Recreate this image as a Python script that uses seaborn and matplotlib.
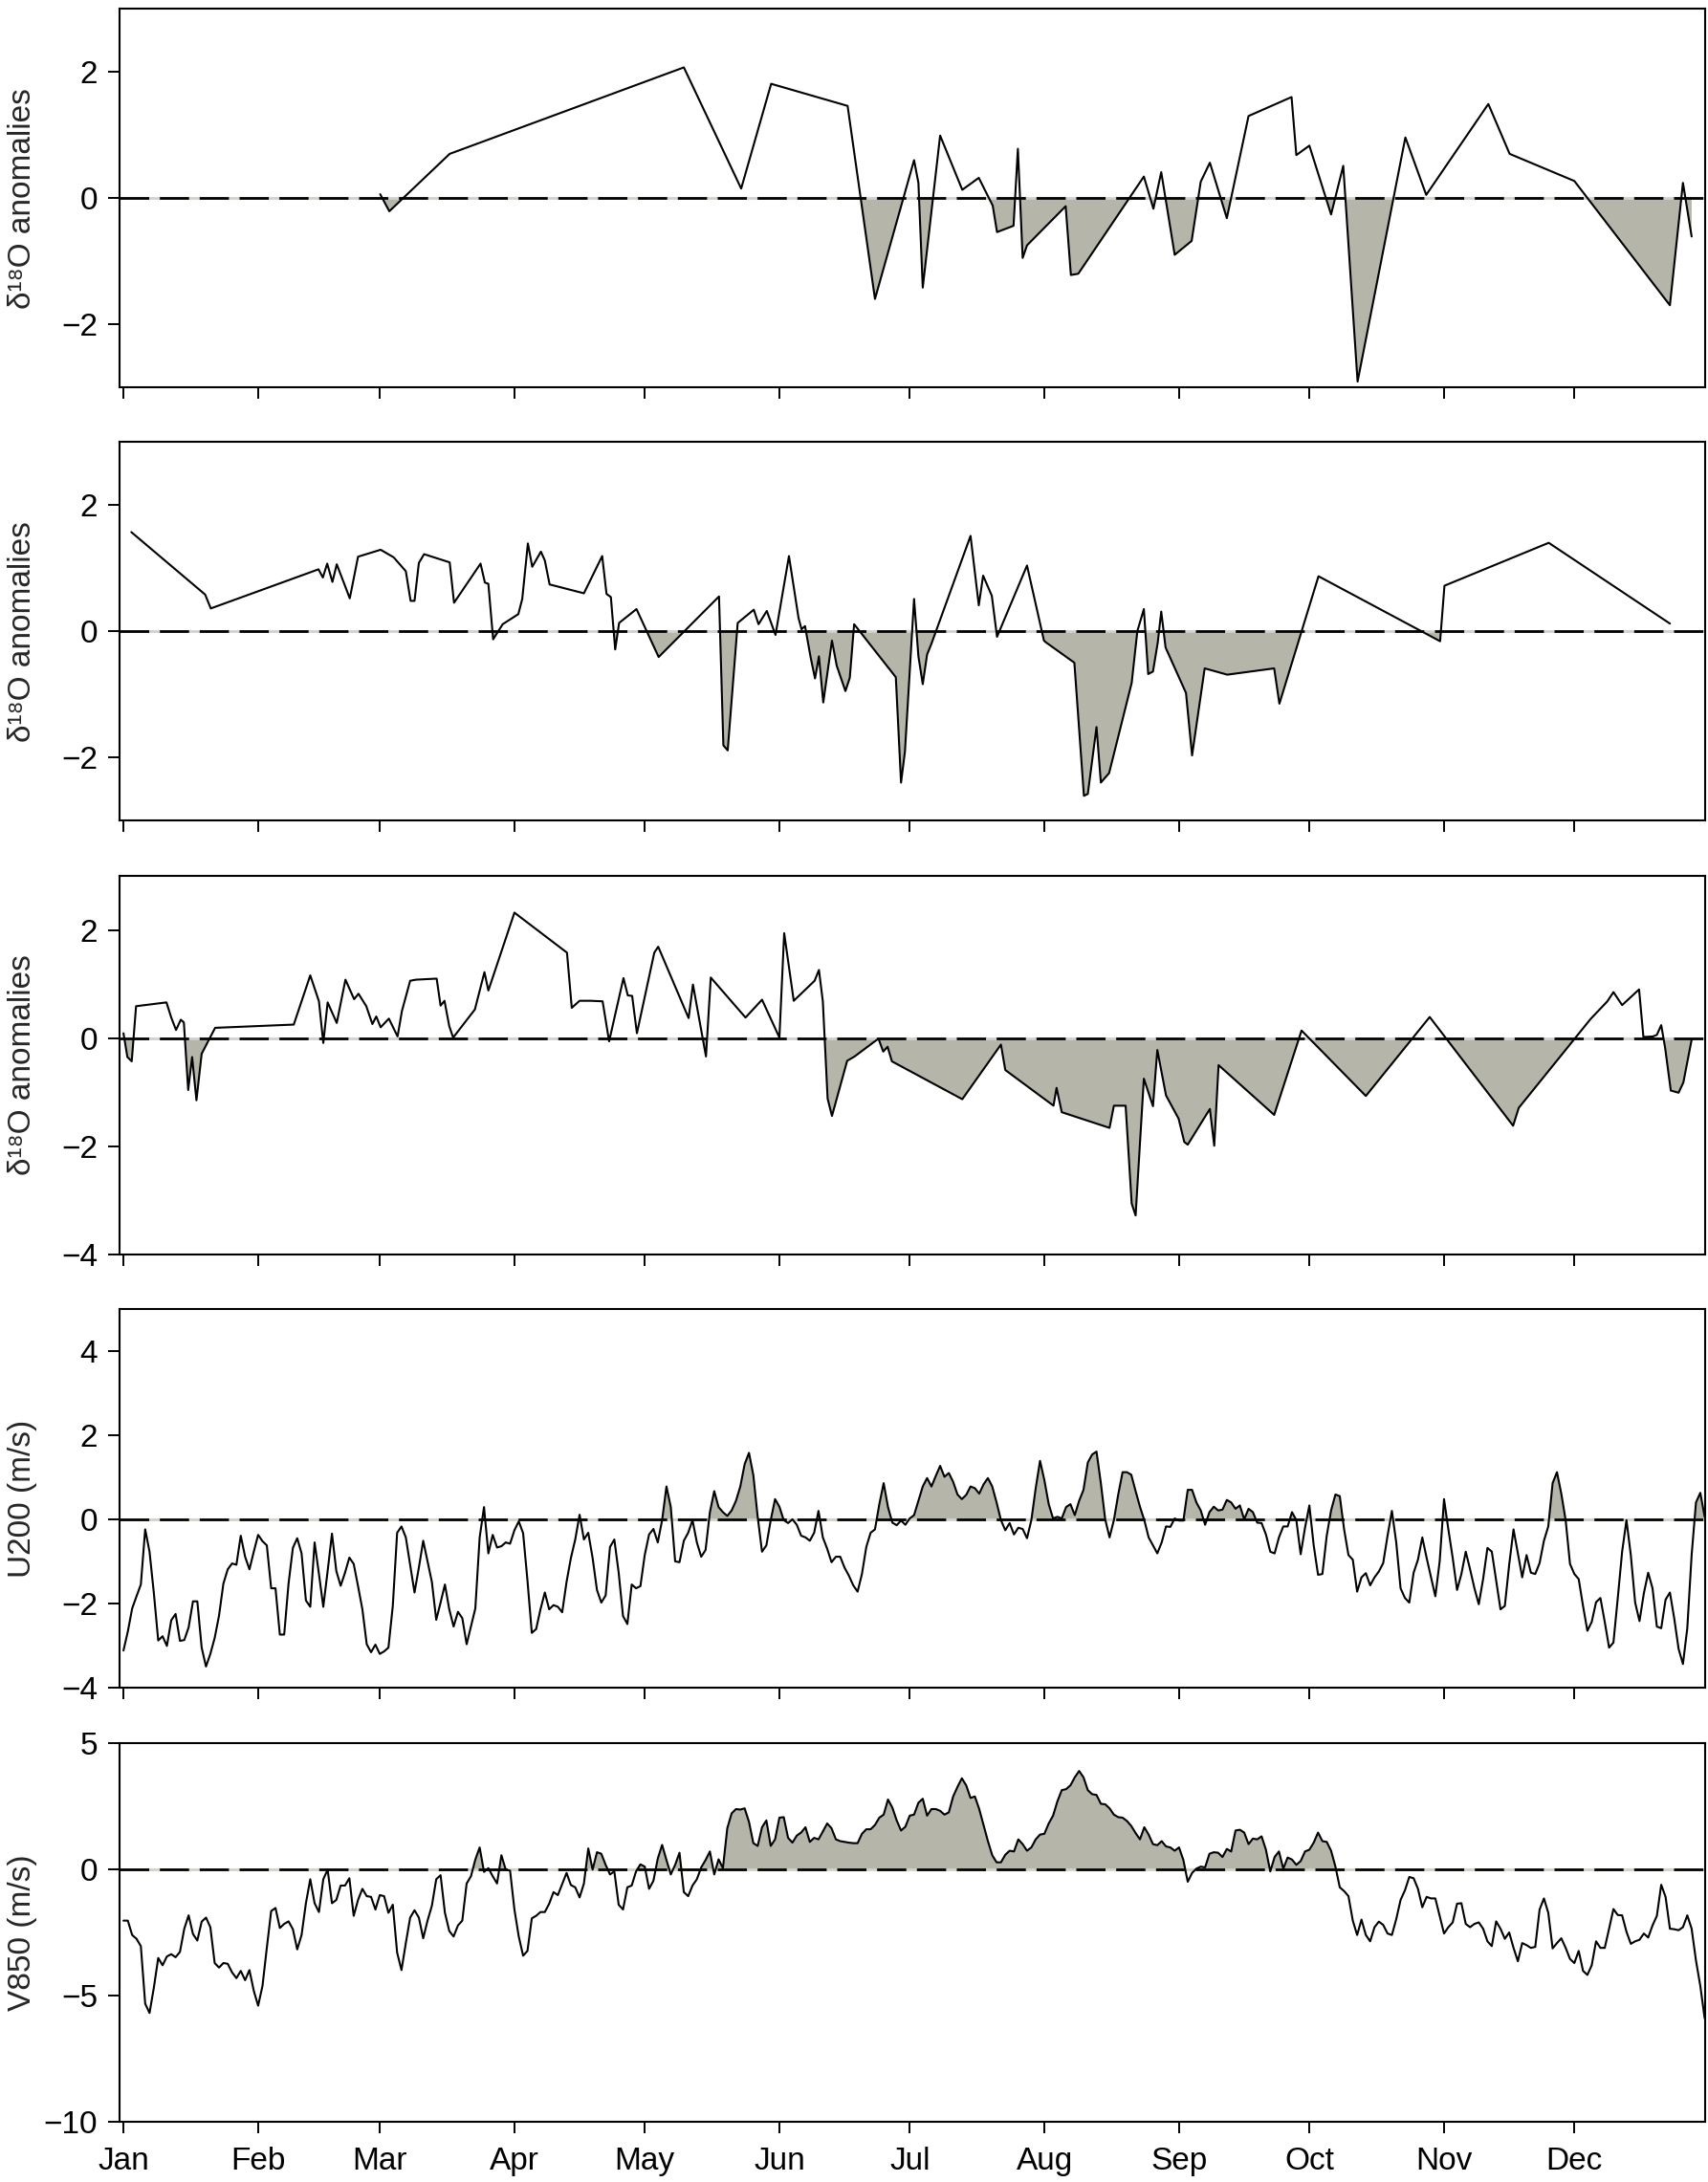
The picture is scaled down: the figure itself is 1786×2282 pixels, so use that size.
import numpy as np
import matplotlib
matplotlib.use("Agg")
import matplotlib.pyplot as plt
import seaborn as sns

# ---- data (day of year, 0 = 1 Jan) ----
month_starts = [0, 31, 59, 90, 120, 151, 181, 212, 243, 273, 304, 334]
month_labels = ["Jan", "Feb", "Mar", "Apr", "May", "Jun",
                "Jul", "Aug", "Sep", "Oct", "Nov", "Dec"]

# station 1 d18O anomalies (irregular sampling)
days_1 = [59.1, 61.2, 75.1, 129, 142.2, 149.1, 166.7, 173, 182, 183, 184, 188,
          193.1, 196.9, 200.1, 201.1, 204.9, 205.9, 207, 208, 216.9, 218.1,
          219.8, 234.9, 237.1, 238.9, 242, 245.9, 248, 250.1, 254, 259, 268.9,
          270, 273, 278, 280.8, 284.1, 295.1, 299.9, 314.2, 319.1, 334, 356,
          359, 361]
d18o_1 = [0.06, -0.21, 0.70, 2.07, 0.15, 1.81, 1.46, -1.60, 0.60, 0.24, -1.42,
          0.99, 0.13, 0.32, -0.12, -0.54, -0.44, 0.78, -0.95, -0.75, -0.13,
          -1.22, -1.20, 0.34, -0.17, 0.41, -0.90, -0.68, 0.26, 0.56, -0.32,
          1.30, 1.60, 0.68, 0.83, -0.26, 0.51, -2.91, 0.96, 0.05, 1.49, 0.70,
          0.27, -1.70, 0.24, -0.61]

# station 2
days_2 = [1.8, 18.8, 20.1, 44.9, 45.9, 46.9, 48.1, 49.1, 52.1, 54, 59.2, 62.2,
          65, 66.1, 67, 68, 69.2, 75.1, 76.1, 82.2, 83.2, 84, 85.1, 87.3, 90.9,
          91.8, 93.1, 94.1, 96.1, 97, 98.1, 106, 110.2, 111.2, 112.2, 113.2,
          114.1, 118.1, 123.2, 137.1, 138.1, 139.1, 141.4, 145.1, 146.2, 148.1,
          150.1, 153.2, 155.4, 156.1, 156.9, 158.2, 159.2, 160.1, 161.1, 163.1,
          164.2, 166.2, 167.2, 168.2, 177.8, 179, 179.9, 182, 183, 184, 185,
          186, 195, 196.9, 197.9, 199.9, 201.1, 208, 211.9, 212.4, 218.9,
          221.1, 222, 224, 225, 226.9, 232.1, 233.4, 234.9, 235.9, 237, 238.1,
          238.9, 239.9, 244.6, 246, 248.9, 254.1, 264.9, 266.1, 275.1, 303.1,
          304.1, 328.1, 356]
d18o_2 = [1.57, 0.58, 0.36, 0.98, 0.85, 1.07, 0.78, 1.06, 0.52, 1.18, 1.29,
          1.17, 0.95, 0.48, 0.48, 1.08, 1.22, 1.09, 0.45, 1.07, 0.77, 0.75,
          -0.13, 0.11, 0.27, 0.51, 1.39, 1.02, 1.26, 1.12, 0.74, 0.60, 1.19,
          0.59, 0.54, -0.29, 0.13, 0.35, -0.41, 0.55, -1.81, -1.89, 0.13, 0.34,
          0.11, 0.32, -0.06, 1.19, 0.21, 0.03, 0.08, -0.42, -0.75, -0.40,
          -1.13, -0.15, -0.55, -0.95, -0.74, 0.11, -0.73, -2.40, -1.91, 0.51,
          -0.40, -0.84, -0.37, -0.20, 1.51, 0.41, 0.88, 0.56, -0.09, 1.04,
          -0.15, -0.18, -0.50, -2.61, -2.58, -1.52, -2.40, -2.25, -0.82, 0.0,
          0.35, -0.68, -0.64, -0.18, 0.31, -0.26, -0.98, -1.97, -0.59, -0.69,
          -0.59, -1.15, 0.87, -0.16, 0.72, 1.40, 0.12]

# station 3
days_3 = [0, 0.9, 1.9, 2.9, 9.9, 11, 12.1, 13.2, 13.9, 14.9, 15.8, 16.8, 18,
          21.1, 39.2, 43, 45, 46, 47, 49.1, 51.1, 53.1, 54.1, 55.9, 57.3, 58.2,
          59.2, 61.1, 63.1, 64.1, 66, 67.3, 72.1, 73, 73.9, 75, 75.9, 80.9,
          83.1, 84, 90, 102.1, 103.2, 105, 107.5, 110.3, 111.8, 115.1, 116.1,
          117.1, 118.2, 122.2, 123.1, 130.1, 131.1, 134.1, 135.2, 143.2, 147,
          151, 152.1, 154.3, 159.1, 160.1, 161, 162.1, 163.1, 166.6, 168.3,
          173.8, 174.9, 175.9, 176.9, 193.1, 202, 203, 214.1, 214.8, 216, 227,
          228, 230.7, 232.1, 233, 234.9, 237, 238, 240, 242.9, 244.2, 245,
          250.1, 251.1, 252.1, 264.9, 271.2, 286, 300.7, 319.9, 321.2, 337.7,
          341.6, 343, 345, 348.9, 349.9, 352.1, 353, 354, 354.9, 356.2, 358,
          359.1, 361]
d18o_3 = [0.09, -0.35, -0.43, 0.59, 0.66, 0.38, 0.15, 0.34, 0.29, -0.96,
          -0.35, -1.15, -0.29, 0.19, 0.25, 1.16, 0.68, -0.09, 0.66, 0.28, 1.08,
          0.72, 0.82, 0.59, 0.26, 0.40, 0.20, 0.36, 0.03, 0.50, 1.06, 1.08,
          1.10, 0.60, 0.69, 0.22, 0.01, 0.53, 1.22, 0.88, 2.32, 1.58, 0.56,
          0.69, 0.69, 0.68, -0.06, 1.11, 0.79, 0.78, 0.09, 1.58, 1.69, 0.37,
          0.99, -0.34, 1.12, 0.38, 0.71, 0.01, 1.94, 0.69, 1.06, 1.26, 0.68,
          -1.12, -1.44, -0.42, -0.34, -0.01, -0.25, -0.16, -0.43, -1.13, -0.12,
          -0.59, -1.25, -0.92, -1.37, -1.66, -1.25, -1.25, -3.06, -3.28, -0.75,
          -1.26, -0.22, -1.06, -1.49, -1.92, -1.97, -1.31, -1.99, -0.50, -1.42,
          0.14, -1.07, 0.39, -1.62, -1.29, 0.35, 0.68, 0.85, 0.61, 0.90, 0.02,
          0.03, 0.06, 0.24, -0.18, -0.97, -1.01, -0.82, -0.03]

# daily U200 anomalies (m/s), one value per day from 1 Jan
u200 = [
    -3.12, -2.67, -2.12, -1.83, -1.55, -0.24, -0.77, -1.76, -2.88, -2.78,
    -3.01, -2.40, -2.25, -2.89, -2.87, -2.57, -1.95, -1.95, -3.05, -3.50,
    -3.20, -2.82, -2.29, -1.53, -1.19, -1.05, -1.08, -0.39, -0.89, -1.19,
    -0.77, -0.37, -0.52, -0.62, -1.64, -1.64, -2.74, -2.74, -1.53, -0.68,
    -0.45, -0.81, -1.93, -2.08, -0.55, -1.30, -2.08, -1.23, -0.34, -1.23,
    -1.58, -1.27, -0.91, -1.06, -1.59, -2.14, -2.97, -3.16, -2.98, -3.20,
    -3.14, -3.05, -2.06, -0.32, -0.17, -0.43, -1.08, -1.74, -1.15, -0.51,
    -1.00, -1.49, -2.39, -1.98, -1.55, -2.14, -2.55, -2.20, -2.35, -2.97,
    -2.55, -2.12, -0.43, 0.29, -0.81, -0.37, -0.67, -0.64, -0.55, -0.58,
    -0.26, -0.05, -0.33, -1.45, -2.70, -2.61, -2.14, -1.74, -2.14, -2.04,
    -2.08, -2.21, -1.49, -0.92, -0.48, 0.11, -0.48, -0.32, -0.92, -1.68,
    -1.98, -1.81, -0.66, -0.48, -1.27, -2.30, -2.49, -1.55, -1.64, -1.59,
    -0.85, -0.36, -0.23, -0.55, -0.02, 0.78, 0.29, -1.00, -1.02, -0.51,
    -0.32, -0.02, -0.55, -0.89, -0.73, 0.17, 0.67, 0.29, 0.17, 0.08,
    0.21, 0.44, 0.78, 1.31, 1.58, 1.05, 0.06, -0.77, -0.62, -0.02,
    0.48, 0.30, -0.02, -0.09, 0.00, -0.13, -0.39, -0.43, -0.51, -0.32,
    0.20, -0.43, -0.70, -1.02, -0.89, -0.89, -1.15, -1.34, -1.57, -1.72,
    -1.30, -0.66, -0.32, -0.24, 0.36, 0.86, 0.29, -0.08, -0.14, -0.03,
    -0.13, 0.02, 0.10, 0.44, 0.78, 0.98, 0.78, 1.03, 1.27, 1.01,
    1.10, 0.89, 0.59, 0.48, 0.58, 0.78, 0.74, 0.61, 0.83, 0.98,
    0.78, 0.40, -0.02, -0.26, -0.09, -0.36, -0.20, -0.23, -0.45, -0.02,
    0.74, 1.39, 0.93, 0.36, 0.02, 0.06, 0.02, 0.29, 0.36, 0.10,
    0.44, 0.70, 1.35, 1.54, 1.61, 0.86, 0.00, -0.43, -0.02, 0.59,
    1.12, 1.12, 1.06, 0.67, 0.30, -0.02, -0.43, -0.62, -0.81, -0.55,
    -0.17, -0.18, 0.02, -0.03, -0.03, 0.70, 0.70, 0.40, 0.21, -0.13,
    0.17, 0.30, 0.21, 0.23, 0.46, 0.40, 0.25, 0.33, 0.00, 0.25,
    0.17, -0.08, -0.09, -0.36, -0.77, -0.81, -0.43, -0.17, -0.17, 0.17,
    -0.02, -0.83, -0.20, 0.33, -0.62, -1.32, -1.30, -0.39, 0.21, 0.59,
    0.55, -0.24, -0.85, -0.96, -1.72, -1.38, -1.28, -1.57, -1.38, -1.24,
    -1.04, -0.39, 0.20, -0.55, -1.64, -1.87, -1.98, -1.27, -0.96, -0.43,
    -0.92, -1.38, -1.83, -1.00, 0.48, -0.24, -0.92, -1.68, -1.30, -0.77,
    -1.19, -1.64, -2.02, -1.42, -0.68, -0.77, -1.45, -2.14, -2.06, -1.08,
    -0.24, -0.81, -1.38, -0.85, -1.27, -1.30, -1.04, -0.51, -0.17, 0.86,
    1.12, 0.61, -0.02, -1.06, -1.30, -1.42, -2.06, -2.65, -2.44, -1.97,
    -1.87, -2.44, -3.05, -2.93, -1.87, -0.77, -0.02, -0.85, -1.98, -2.42,
    -1.76, -1.27, -1.64, -2.55, -2.59, -1.91, -1.74, -2.36, -3.08, -3.44,
    -2.59, -0.85, 0.40, 0.63, 0.06,
]

# daily V850 anomalies (m/s)
v850 = [
    -2.03, -2.03, -2.60, -2.75, -3.04, -5.32, -5.69, -4.68, -3.51, -3.80,
    -3.45, -3.36, -3.48, -3.27, -2.35, -1.82, -2.56, -2.82, -2.07, -1.91,
    -2.29, -3.71, -3.89, -3.71, -3.74, -4.08, -4.31, -4.02, -4.39, -3.99,
    -4.81, -5.40, -4.62, -3.11, -1.65, -1.53, -2.32, -2.16, -2.06, -2.37,
    -3.17, -2.60, -1.34, -0.39, -1.34, -1.69, -0.39, -0.01, -1.34, -1.21,
    -0.64, -0.64, -0.35, -1.84, -1.21, -0.77, -1.06, -1.09, -1.59, -1.02,
    -1.06, -1.72, -1.40, -3.30, -3.99, -2.92, -1.91, -1.62, -1.91, -2.73,
    -2.03, -1.44, -0.39, -0.23, -1.72, -2.44, -2.66, -2.22, -2.03, -0.56,
    -0.27, 0.39, 0.87, -0.10, 0.05, -0.27, -0.56, 0.56, -0.01, -0.05,
    -1.59, -2.66, -3.42, -3.23, -1.94, -1.84, -1.69, -1.69, -1.36, -0.90,
    -1.02, -0.58, -0.14, -0.62, -0.71, -1.11, -0.56, 0.83, -0.01, 0.68,
    0.62, 0.18, -0.20, -0.08, -1.40, -1.59, -0.71, -0.64, -0.08, 0.20,
    0.11, -0.77, -0.45, 0.43, 0.97, 0.37, -0.20, 0.18, 0.66, -0.90,
    -1.06, -0.64, -0.39, 0.08, 0.37, 0.71, -0.20, 0.40, 0.05, 1.63,
    2.22, 2.39, 2.37, 2.42, 1.88, 1.04, 0.93, 1.67, 1.94, 0.93,
    1.19, 2.05, 2.07, 1.25, 1.06, 1.34, 1.46, 1.67, 1.09, 1.25,
    1.19, 1.50, 1.82, 1.63, 1.19, 1.12, 1.09, 1.06, 1.04, 1.04,
    1.41, 1.59, 1.59, 1.76, 2.05, 2.17, 2.77, 2.45, 1.94, 1.54,
    1.69, 2.13, 2.17, 2.64, 2.80, 2.13, 2.39, 2.39, 2.32, 2.17,
    2.26, 2.89, 3.27, 3.61, 3.33, 2.83, 2.89, 2.39, 1.76, 1.12,
    0.56, 0.28, 0.28, 0.58, 0.74, 0.71, 1.19, 1.00, 0.74, 0.87,
    1.19, 1.38, 1.41, 1.82, 2.13, 2.70, 3.14, 3.18, 3.33, 3.65,
    3.90, 3.65, 3.14, 2.98, 2.95, 2.60, 2.58, 2.42, 2.17, 2.07,
    2.05, 1.92, 1.72, 1.44, 1.19, 1.67, 1.38, 1.00, 0.96, 1.12,
    0.91, 0.87, 0.74, 0.87, 0.37, -0.49, -0.14, 0.03, 0.11, 0.08,
    0.62, 0.68, 0.66, 0.49, 0.81, 0.71, 1.54, 1.57, 1.46, 1.00,
    1.22, 1.19, 1.31, 0.78, -0.08, 0.49, 0.71, 0.03, 0.47, 0.39,
    0.18, 0.33, 0.71, 0.78, 1.06, 1.46, 1.12, 1.09, 0.74, 0.11,
    -0.71, -0.86, -1.06, -2.03, -2.60, -1.99, -2.60, -2.85, -2.29, -2.07,
    -2.20, -2.54, -2.60, -1.97, -1.21, -0.83, -0.30, -0.35, -0.77, -1.50,
    -1.09, -1.15, -1.15, -1.84, -2.54, -2.29, -2.10, -1.36, -1.34, -2.16,
    -2.29, -2.16, -2.10, -2.35, -2.85, -3.04, -2.06, -2.35, -2.75, -2.50,
    -3.11, -3.64, -2.92, -3.00, -3.11, -3.07, -1.59, -1.15, -1.72, -3.13,
    -2.92, -2.73, -3.11, -3.55, -3.71, -3.23, -4.02, -4.18, -3.80, -2.85,
    -3.11, -3.11, -2.35, -1.57, -1.81, -1.82, -2.47, -2.95, -2.85, -2.79,
    -2.54, -2.70, -2.22, -1.84, -0.61, -1.09, -2.35, -2.37, -2.41, -2.29,
    -1.82, -2.35, -3.61, -4.62, -5.90,
]

d18o_label = "\u03b4\u00b9\u2078O anomalies"
panels = [
    (days_1, d18o_1, d18o_label, (-3, 3), [-2, 0, 2], "neg"),
    (days_2, d18o_2, d18o_label, (-3, 3), [-2, 0, 2], "neg"),
    (days_3, d18o_3, d18o_label, (-4, 3), [-4, -2, 0, 2], "neg"),
    (list(np.arange(len(u200))), u200, "U200 (m/s)", (-4, 5), [-4, -2, 0, 2, 4], "pos"),
    (list(np.arange(len(v850))), v850, "V850 (m/s)", (-10, 5), [-10, -5, 0, 5], "pos"),
]

sns.set_style("ticks")
plt.rcParams["font.family"] = ["Liberation Sans", "DejaVu Sans"]
plt.rcParams["axes.linewidth"] = 1.5

shade = "#b5b5a9"
fig = plt.figure(figsize=(17.86, 22.82), dpi=100)

# axes boxes in figure fractions (left, bottom, width, height)
left, width, height = 0.0700, 0.9283, 0.1735
bottoms = [0.8225, 0.6240, 0.4251, 0.2266, 0.0276]

for k, (x, y, lab, ylim, yt, side) in enumerate(panels):
    ax = fig.add_axes([left, bottoms[k], width, height])
    x = np.asarray(x, dtype=float)
    y = np.asarray(y, dtype=float)

    if side == "neg":
        ax.fill_between(x, y, 0, where=y < 0, interpolate=True,
                        color=shade, linewidth=0, zorder=1)
    else:
        ax.fill_between(x, y, 0, where=y > 0, interpolate=True,
                        color=shade, linewidth=0, zorder=1)

    # zero line: light line under long black dashes
    ax.axhline(0, color="#d2d2ca", lw=2.0, zorder=2)
    ax.axhline(0, color="black", lw=2.0, dashes=(11, 4), zorder=3)

    sns.lineplot(x=x, y=y, ax=ax, color="black", linewidth=1.5,
                 sort=False, estimator=None, zorder=4)

    ax.set_xlim(-0.9, 364.1)
    ax.set_ylim(*ylim)
    ax.set_yticks(yt)
    ax.set_xticks(month_starts)
    if k == len(panels) - 1:
        ax.set_xticklabels(month_labels)
    else:
        ax.set_xticklabels([])
    ax.tick_params(axis="both", direction="out", length=8.5, width=1.4,
                   labelsize=24, colors="black")
    ax.tick_params(axis="y", pad=8)
    ax.tick_params(axis="x", pad=10)
    ax.set_xlabel("")
    ax.set_ylabel(lab, fontsize=24)
    ax.yaxis.set_label_coords(-0.052, 0.5)
    for sp in ax.spines.values():
        sp.set_visible(True)
        sp.set_color("black")
        sp.set_linewidth(1.5)

fig.savefig("out.png", dpi=100)
